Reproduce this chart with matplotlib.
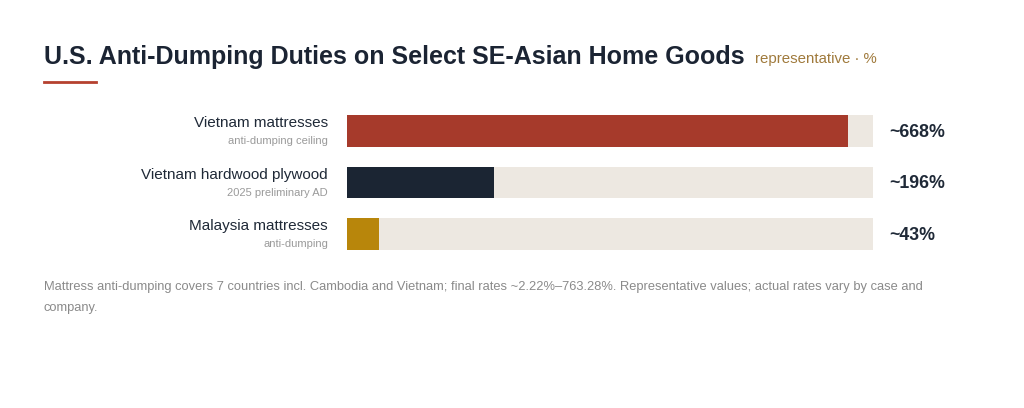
import matplotlib
matplotlib.use("Agg")
import matplotlib.pyplot as plt

plt.rcParams['font.family'] = ['Liberation Sans', 'DejaVu Sans']

# data
labels = ["Vietnam mattresses", "Vietnam hardwood plywood", "Malaysia mattresses"]
sublabels = ["anti-dumping ceiling", "2025 preliminary AD", "anti-dumping"]
values = [668, 196, 43]
value_text = ["~668%", "~196%", "~43%"]
colors = ["#a63a2b", "#1b2533", "#b8860b"]
xmax = 702

W, H = 1024, 408
fig = plt.figure(figsize=(W / 100, H / 100), dpi=100)
fig.patch.set_facecolor("white")

def fx(px):
    return px / W

def fy(py):
    return 1 - py / H

# title
fig.text(fx(44), fy(64), "U.S. Anti-Dumping Duties on Select SE-Asian Home Goods",
         fontsize=18, fontweight="bold", color="#1b2433", ha="left", va="baseline")
fig.text(fx(755), fy(63), "representative · %", fontsize=10.8, color="#a07a3c",
         ha="left", va="baseline")
fig.add_artist(plt.Line2D([fx(44), fx(96)], [fy(82), fy(82)], color="#b5412f", lw=2.0))

# bars
top, bot = 105.25, 259.75
ax = fig.add_axes([fx(347), fy(bot), fx(873) - fx(347), (bot - top) / H])
ypos = range(len(values))
ax.barh(ypos, [xmax] * len(values), height=0.62, color="#ede8e1")
ax.barh(ypos, values, height=0.62, color=colors)
ax.set_xlim(0, xmax)
ax.set_ylim(2.5, -0.5)
ax.axis("off")

for i in ypos:
    ax.annotate(labels[i], xy=(0, i), xytext=(-19, 4), textcoords="offset pixels",
                ha="right", va="baseline", fontsize=11, color="#1f2937")
    ax.annotate(sublabels[i], xy=(0, i), xytext=(-19, -13), textcoords="offset pixels",
                ha="right", va="baseline", fontsize=8, color="#9a9a9a")
    ax.annotate(value_text[i], xy=(xmax, i), xytext=(16, -6), textcoords="offset pixels",
                ha="left", va="baseline", fontsize=12.8, fontweight="bold", color="#1f2937")

# footnote
fig.text(fx(44), fy(290),
         "Mattress anti-dumping covers 7 countries incl. Cambodia and Vietnam; final rates ~2.22%\u2013763.28%. Representative values; actual rates vary by case and",
         fontsize=9.3, color="#8a8a8a", ha="left", va="baseline")
fig.text(fx(44), fy(311), "company.", fontsize=9.3, color="#8a8a8a", ha="left", va="baseline")

fig.savefig("out.png", dpi=100, facecolor="white")
